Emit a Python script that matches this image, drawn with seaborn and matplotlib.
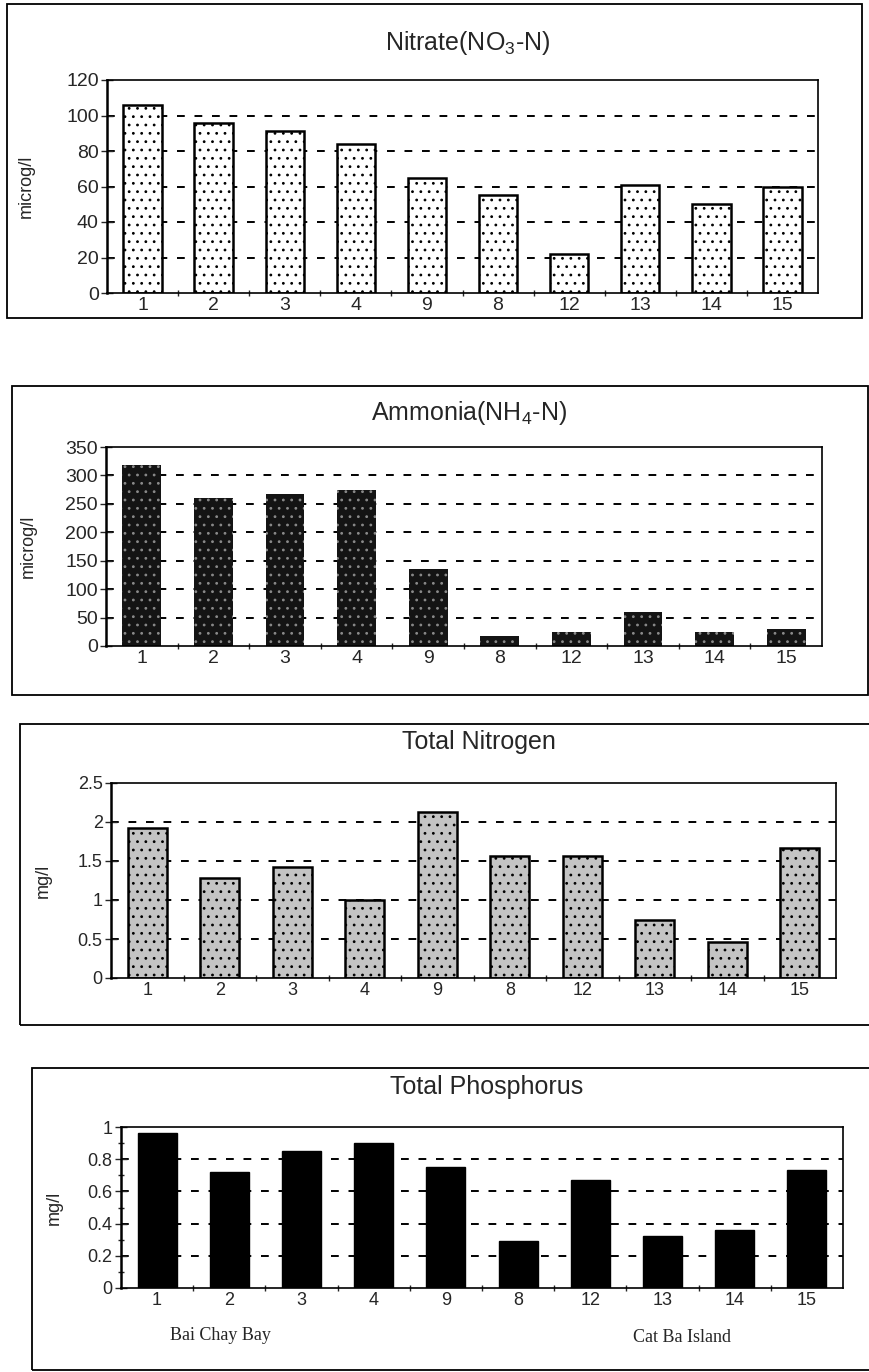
import matplotlib
matplotlib.use("Agg")
import matplotlib.pyplot as plt
import seaborn as sns
from matplotlib.patches import Rectangle
from matplotlib.ticker import MultipleLocator, FixedLocator

sns.set_theme(style="white")
plt.rcParams['font.family'] = ['Liberation Sans', 'DejaVu Sans']
plt.rcParams['mathtext.default'] = 'regular'
plt.rcParams['hatch.linewidth'] = 0.8

# ---- data ----
stations = ["1", "2", "3", "4", "9", "8", "12", "13", "14", "15"]
nitrate = [106, 96, 91, 84, 65, 55, 22, 61, 50, 60]
ammonia = [318, 260, 268, 274, 135, 17, 24, 60, 25, 30]
total_n = [1.92, 1.28, 1.42, 1.00, 2.13, 1.56, 1.56, 0.75, 0.46, 1.67]
total_p = [0.96, 0.72, 0.85, 0.90, 0.75, 0.29, 0.67, 0.32, 0.36, 0.73]

titles = ["Nitrate(NO$_3$-N)", "Ammonia(NH$_4$-N)", "Total Nitrogen", "Total Phosphorus"]
ylabels = ["microg/l", "microg/l", "mg/l", "mg/l"]
yticks = [[0, 20, 40, 60, 80, 100, 120],
          [0, 50, 100, 150, 200, 250, 300, 350],
          [0, 0.5, 1, 1.5, 2, 2.5],
          [0, 0.2, 0.4, 0.6, 0.8, 1]]
ytick_labels = [["0", "20", "40", "60", "80", "100", "120"],
                ["0", "50", "100", "150", "200", "250", "300", "350"],
                ["0", "0.5", "1", "1.5", "2", "2.5"],
                ["0", "0.2", "0.4", "0.6", "0.8", "1"]]
region_labels = ["Bai Chay Bay", "Cat Ba Island"]
series = [nitrate, ammonia, total_n, total_p]

W, H = 870, 1372
fig = plt.figure(figsize=(W / 100, H / 100), dpi=100)
fig.patch.set_facecolor("white")

def fx(x):
    return x / W

def fy(y):
    return 1 - y / H

# axes pixel boxes (left, right, top, bottom)
axboxes = [(107, 818, 80, 293), (106, 822, 447, 646), (111, 836, 783, 978), (121, 843, 1127, 1288)]
panelboxes = [(7, 862, 4, 318), (12, 868, 386, 695), (20, 872, 724, 1025), (32, 872, 1068, 1370)]
title_y = [43, 413, 742, 1087]
ylabel_x = [35, 37, 52, 63]
tick_fs = [14, 14, 13, 13]

styles = [
    dict(face="white", edge="black", hatch="..", lw=1.8),
    dict(face="#141414", edge="#8a8a8a", hatch="..", lw=0.0),
    dict(face="#c4c4c4", edge="black", hatch="..", lw=1.8),
    dict(face="black", edge="black", hatch=None, lw=1.0),
]

for i in range(4):
    l, r, t, b = axboxes[i]
    ax = fig.add_axes([fx(l), fy(b), fx(r - l), (b - t) / H])
    st = styles[i]
    sns.barplot(x=stations, y=series[i], order=stations, ax=ax, color=st["face"],
                saturation=1, width=0.54, edgecolor=st["edge"], linewidth=st["lw"])
    for p in ax.patches:
        p.set_facecolor(st["face"])
        if st["hatch"]:
            p.set_hatch(st["hatch"])
    if i == 1:
        for p in ax.patches:
            p.set_linewidth(0)
    ax.set_ylim(yticks[i][0], yticks[i][-1])
    ax.set_xlim(-0.5, len(stations) - 0.5)
    ax.set_yticks(yticks[i])
    ax.set_yticklabels(ytick_labels[i], fontsize=tick_fs[i])
    ax.set_xticks(range(len(stations)))
    ax.set_xticklabels(stations, fontsize=tick_fs[i])
    ax.tick_params(axis="x", which="major", length=0, pad=3)
    ax.xaxis.set_minor_locator(FixedLocator([k + 0.5 for k in range(len(stations) - 1)]))
    ax.tick_params(axis="x", which="minor", length=4, width=1, direction="inout", bottom=True)
    ax.tick_params(axis="y", which="major", length=8, width=1, direction="inout", left=True, pad=2)
    if i == 3:
        ax.yaxis.set_minor_locator(MultipleLocator(0.1))
        ax.tick_params(axis="y", which="minor", length=5, width=1, direction="inout", left=True)
    ax.set_xlabel("")
    ax.set_ylabel(ylabels[i], fontsize=13)
    ax.yaxis.set_label_coords((ylabel_x[i] - l) / (r - l), 0.5)
    for yv in yticks[i][1:-1]:
        ax.axhline(yv, color="black", lw=1.4, ls=(0, (4, 5)), zorder=0.5)
    for s in ax.spines.values():
        s.set_visible(True)
        s.set_color("black")
        s.set_linewidth(1.2)
    ax.spines["left"].set_linewidth(1.8)
    ax.set_facecolor("white")
    ax.grid(False)

    fig.text(fx((l + r) / 2 + 5), fy(title_y[i]), titles[i], ha="center", va="center", fontsize=18)

    pl, pr, pt, pb = panelboxes[i]
    fig.patches.append(Rectangle((fx(pl), fy(pb)), fx(pr - pl), (pb - pt) / H,
                                 transform=fig.transFigure, fill=False,
                                 edgecolor="black", lw=1.3))

fig.text(fx(220), fy(1335), region_labels[0], ha="center", va="center", fontsize=13,
         family=["Liberation Serif", "DejaVu Serif"])
fig.text(fx(682), fy(1337), region_labels[1], ha="center", va="center", fontsize=13,
         family=["Liberation Serif", "DejaVu Serif"])

fig.savefig("out.png", dpi=100, facecolor="white")
